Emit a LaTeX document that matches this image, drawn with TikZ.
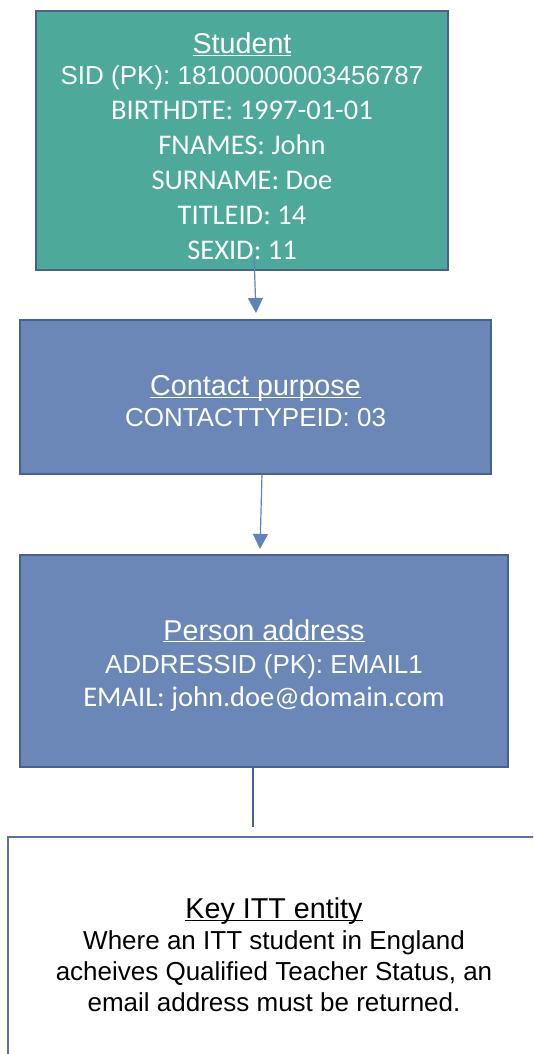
\documentclass[tikz,border=0pt]{standalone}
\usepackage{fontspec}
\setmainfont{Liberation Sans}
\newfontfamily\calibri{Carlito}
\usetikzlibrary{arrows.meta}

\definecolor{tealfill}{HTML}{4DA999}
\definecolor{bluefill}{HTML}{6A87B8}
\definecolor{boxline}{HTML}{4A6190}
\definecolor{arrowline}{HTML}{6283BA}
\definecolor{keyline}{HTML}{5875A6}

\newcommand{\entityname}[1]{{\fontsize{28.7}{31}\selectfont\underline{\smash{#1}}}}
\newcommand{\calibritext}{\calibri\fontsize{28.5}{35}\selectfont}
\newcommand{\topstrut}[1]{\rule{0pt}{#1}}

\tikzset{
  entity/.style={rectangle, draw=boxline, line width=2.5pt, text=white,
    align=center, inner sep=0pt, font=\fontsize{26}{31}\selectfont},
  keybox/.style={rectangle, draw=keyline, line width=1.5pt, text=black,
    align=center, inner sep=0pt, font=\fontsize{26}{31}\selectfont},
  link/.style={arrowline, line width=1.2pt,
    -{Triangle[length=15pt, width=15pt]}},
  plainlink/.style={boxline, line width=2pt}
}

\begin{document}
\begin{tikzpicture}[x=1pt, y=-1pt]
  \clip (0, 0) rectangle (533, 1054);
  % \draw[help lines, step=50] (0,0) grid (533, 1054);

  \node at (242, 140.5) [entity, fill=tealfill, minimum width=412pt, minimum height=259pt,
  font=\fontsize{26}{35}\selectfont]
  (stu) {\topstrut{33pt}\entityname{Student}\\[-4pt]
    SID (PK): 18100000003456787\\
    \calibritext BIRTHDTE: 1997-01-01\\
    \calibritext FNAMES: John\\
    \calibritext SURNAME: Doe\\
    \calibritext TITLEID: 14\\
    \calibritext SEXID: 11};
  \node at (255.5, 397) [entity, fill=bluefill, minimum width=471pt, minimum height=154pt]
  (con) {\topstrut{29pt}\entityname{Contact purpose}\\ CONTACTTYPEID: 03};
  \node at (264, 661) [entity, fill=bluefill, minimum width=488pt, minimum height=212pt,
  font=\fontsize{26}{33}\selectfont]
  (addr) {\topstrut{29pt}\entityname{Person address}\\
    ADDRESSID (PK): EMAIL1\\
    \calibritext EMAIL: john.doe@domain.com};
  \node at (274, 951.5) [keybox, minimum width=532pt, minimum height=229pt]
  (key) {\topstrut{28pt}\entityname{Key ITT entity}\\
    Where an ITT student in England\\
    acheives Qualified Teacher Status, an\\
    email address must be returned.};

  \coordinate (s1) at (254, 255);
  \coordinate (s2) at (256, 313);
  \coordinate (c1) at (262, 474);
  \coordinate (c2) at (260, 549);
  \coordinate (a1) at (253, 767);
  \coordinate (a2) at (253, 827);

  \draw[link] (s1) -- (s2);
  \draw[link] (c1) -- (c2);
  \draw[plainlink] (a1) -- (a2);
\end{tikzpicture}
\end{document}
